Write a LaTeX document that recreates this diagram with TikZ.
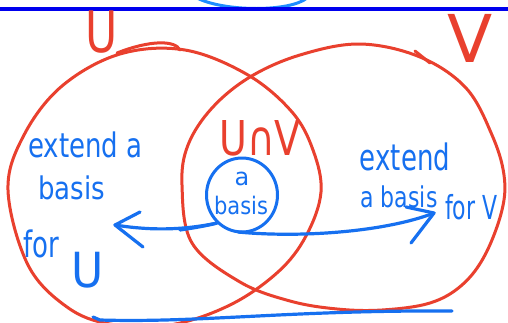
\documentclass[tikz,border=0pt]{standalone}
\usepackage{fontspec}
\usepackage{graphicx}
\setmainfont{DejaVu Sans}
\usetikzlibrary{shapes.geometric}
\definecolor{inkred}{RGB}{233,64,46}
\definecolor{inkblue}{RGB}{22,112,240}
\definecolor{rulerblue}{RGB}{0,0,238}
\definecolor{arcblue}{RGB}{30,140,255}
\tikzset{
  redstroke/.style={draw=inkred, line width=3pt, line cap=round, line join=round},
  bluestroke/.style={draw=inkblue, line width=3.2pt, line cap=round, line join=round},
  bluetext/.style={text=inkblue, inner sep=0pt, font=\fontsize{26}{28}\selectfont},
  redtext/.style={text=inkred, inner sep=0pt},
}
\begin{document}
\begin{tikzpicture}[x=1pt,y=-1pt]
\useasboundingbox (0,0) rectangle (508,322);
\fill[white] (0,0) rectangle (508,322);
% top arc and ruler line
\draw[draw=arcblue, line width=3pt] (197,-2) .. controls (225,12) and (290,12) .. (307,-2);
\draw[draw=rulerblue, line width=3.5pt] (0,9) -- (508,9);
% circle U
\draw[redstroke] plot[smooth cycle, tension=0.6] coordinates {
 (8,190) (28,265) (67,307) (110,324) (170,325) (230,305) (278,272) (306,236)
 (321,192) (313,150) (292,112) (248,75) (185,50) (120,54) (62,86) (24,135)};
\draw[redstroke] (117,53) .. controls (150,40) and (175,40) .. (180,50);
% circle V
\draw[redstroke] plot[smooth cycle, tension=0.6] coordinates {
 (182,185) (192,243) (240,282) (290,301) (337,309) (382,310) (430,303)
 (462,285) (485,255) (502,210) (504,175) (492,135) (466,88) (420,57)
 (360,44) (300,55) (250,77) (212,108) (188,145)};
\draw[redstroke] (415,51) -- (430,63);
% labels red
\node[redtext, font=\fontsize{44}{46}\selectfont] (lblU) at (102,32) {\scalebox{1}[1.3]{U}};
\node[redtext, font=\fontsize{60}{62}\selectfont] (lblV) at (470,38) {\scalebox{1.1}[1.1]{V}};
\node[redtext, font=\fontsize{40}{42}\selectfont] (lblUV) at (260,138) {\scalebox{0.95}[1.2]{U∩V}};
% small basis circle
\node[draw=inkblue, line width=3pt, ellipse, minimum width=71pt, minimum height=74pt, inner sep=0pt] (basis) at (242,195) {};
\node[text=inkblue, inner sep=0pt, font=\fontsize{24}{26}\selectfont] (ta) at (242,179) {a};
\node[text=inkblue, inner sep=0pt, font=\fontsize{21}{22}\selectfont] (tb) at (241,205) {\scalebox{1}[1.15]{basis}};
% left texts
\node[bluetext, anchor=west] (l1) at (28,145) {\scalebox{1}[1.3]{extend a}};
\node[bluetext, anchor=west] (l2) at (38,188) {\scalebox{1}[1.2]{basis}};
\node[bluetext, anchor=west] (l3) at (23,244) {\scalebox{1}[1.4]{for}};
\node[text=inkblue, inner sep=0pt, font=\fontsize{44}{46}\selectfont] (l4) at (88,270) {\scalebox{1}[1.1]{U}};
% right texts
\node[bluetext] (r1) at (405,157) {\scalebox{1}[1.4]{extend}};
\node[bluetext, font=\fontsize{22}{24}\selectfont] (r2) at (399,197) {\scalebox{1}[1.3]{a basis}};
\node[bluetext, font=\fontsize{22}{24}\selectfont, anchor=west] (r3) at (445,207) {\scalebox{1}[1.5]{for V}};
% arrows
\coordinate (tipL) at (115,225);
\coordinate (tipR) at (434,213);
\coordinate (startL) at (217,223);
\coordinate (startR) at (238,232);
\draw[bluestroke] (180,230) .. controls (200,227) and (210,225) .. (startL);
\draw[bluestroke] (startL) .. controls (175,232) and (140,229) .. (tipL);
\draw[bluestroke] (tipL) ++(25,-13) -- (tipL) -- ++(28,22);
\draw[bluestroke] (startR) .. controls (300,238) and (385,232) .. (tipR);
\draw[bluestroke] (tipR) ++(-28,-6) -- (tipR) -- ++(-23,30);
% bottom line
\coordinate (b0) at (93,317);
\coordinate (b1) at (452,311);
\draw[bluestroke] (b0) -- (100,320) .. controls (200,323) and (290,310) .. (b1);
\end{tikzpicture}
\end{document}
